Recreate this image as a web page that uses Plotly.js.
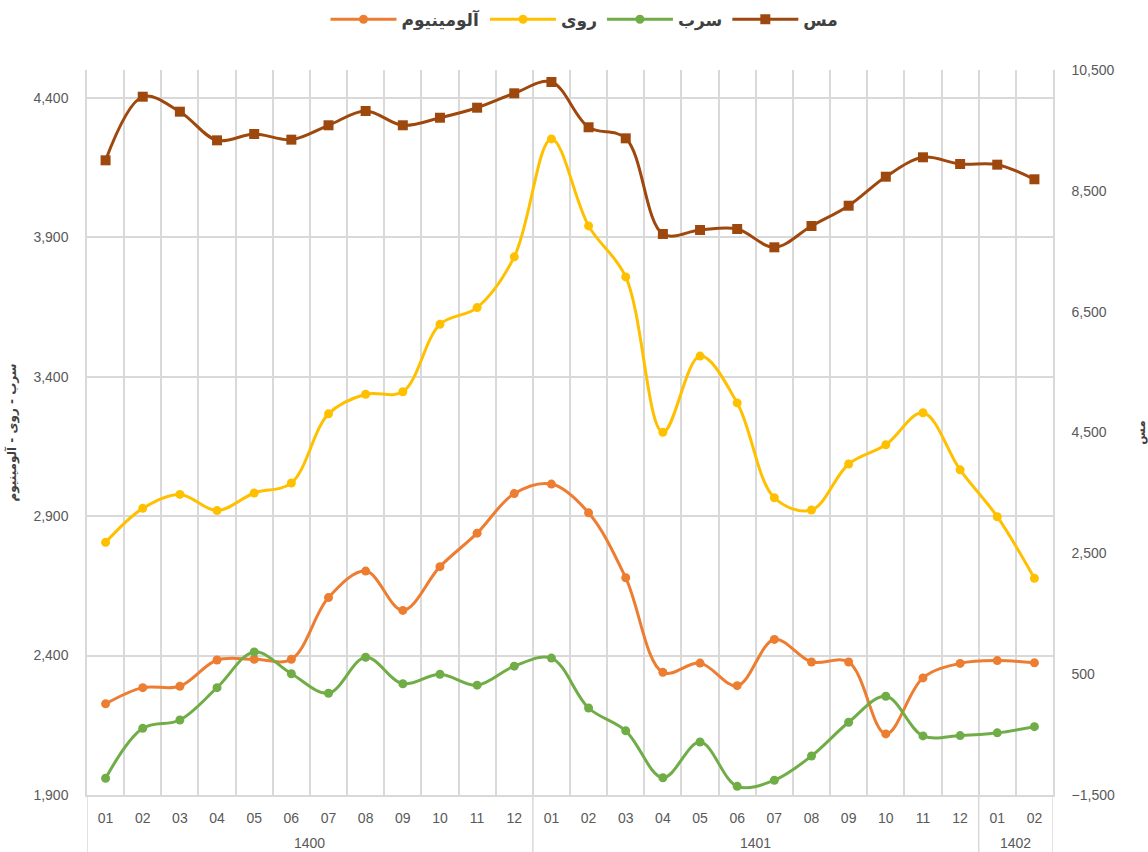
<!DOCTYPE html>
<html>
<head>
<meta charset="utf-8">
<script src="https://cdn.plot.ly/plotly-3.0.1.min.js"></script>
<style>
html,body{margin:0;padding:0;background:#fff;}
#chart{width:1148px;height:852px;}
</style>
</head>
<body>
<div id="chart"></div>
<script>
const years = ['1400','1400','1400','1400','1400','1400','1400','1400','1400','1400','1400','1400',
               '1401','1401','1401','1401','1401','1401','1401','1401','1401','1401','1401','1401',
               '1402','1402'];
const months = ['01','02','03','04','05','06','07','08','09','10','11','12',
                '01','02','03','04','05','06','07','08','09','10','11','12',
                '01','02'];

const aluminium = [2227,2285,2290,2384,2387,2387,2608,2703,2562,2719,2839,2981,
                   3015,2912,2679,2340,2373,2292,2458,2377,2377,2119,2320,2372,
                   2382,2374];
const zinc = [2806,2928,2978,2920,2983,3019,3267,3337,3346,3588,3648,3830,
              4253,3941,3758,3201,3474,3306,2966,2922,3087,3156,3271,3066,
              2898,2677];
const lead = [1960,2139,2169,2285,2413,2335,2265,2394,2299,2333,2294,2362,
              2391,2212,2130,1962,2090,1931,1953,2040,2161,2254,2112,2113,
              2123,2145];
const copper = [9005,10058,9810,9336,9441,9347,9585,9821,9585,9710,9876,10114,
                10301,9552,9369,7786,7852,7868,7565,7918,8254,8734,9055,8944,
                8933,8691];

const names = ['آلومینیوم','روی','سرب','مس'];
const colors = ['#ED7D31','#FFC000','#70AD47','#9E480E'];

const fontFam = 'Liberation Sans, DejaVu Sans, Arial, sans-serif';
// unique category keys (year/month) shown with month labels
const xcat = years.map((y, i) => y + '/' + months[i]);

function tr(y, i, axis, symbol, size) {
  return {
    type: 'scatter', mode: 'lines+markers',
    x: xcat, y: y, name: names[i], yaxis: axis,
    line: {color: colors[i], width: 3, shape: 'spline', smoothing: 1},
    marker: {color: colors[i], size: size, symbol: symbol}
  };
}

const data = [
  tr(aluminium, 0, 'y', 'circle', 9),
  tr(zinc, 1, 'y', 'circle', 9),
  tr(lead, 2, 'y', 'circle', 9),
  tr(copper, 3, 'y2', 'square', 10)
];

// year groups -> dividers and centred year labels
const groups = [];
years.forEach((y, i) => {
  if (!groups.length || groups[groups.length - 1].year !== y) groups.push({year: y, start: i, end: i});
  else groups[groups.length - 1].end = i;
});
const gridCol = '#d9d9d9';
const shapes = [];
const annotations = [];
groups.forEach((g, k) => {
  shapes.push({type: 'line', xref: 'x', yref: 'paper', x0: g.start - 0.5, x1: g.start - 0.5,
               y0: 0, y1: -0.08, line: {color: gridCol, width: 1.5}});
  if (k === groups.length - 1)
    shapes.push({type: 'line', xref: 'x', yref: 'paper', x0: g.end + 0.5, x1: g.end + 0.5,
                 y0: 0, y1: -0.08, line: {color: gridCol, width: 1.5}});
  annotations.push({xref: 'x', yref: 'paper', x: (g.start + g.end) / 2, y: 0,
                    yshift: -48, yanchor: 'middle', showarrow: false, text: g.year,
                    font: {size: 14, color: '#595959', family: fontFam}});
});

const layout = {
  width: 1148, height: 852,
  margin: {l: 87, r: 95, t: 70, b: 57},
  paper_bgcolor: '#fff', plot_bgcolor: '#fff',
  font: {family: fontFam, color: '#595959', size: 14},
  showlegend: true,
  legend: {
    orientation: 'h', x: 0.515, xanchor: 'center', xref: 'paper',
    y: 0.998, yanchor: 'top', yref: 'container',
    font: {size: 17, color: '#404040', family: 'DejaVu Sans, Liberation Sans, sans-serif', weight: 'bold'},
    traceorder: 'normal', itemwidth: 66
  },
  xaxis: {
    type: 'category',
    range: [-0.5, xcat.length - 0.5],
    tickvals: xcat, ticktext: months,
    tickson: 'boundaries',
    showgrid: true, gridcolor: gridCol, gridwidth: 1.5,
    showline: true, linecolor: gridCol, linewidth: 1.5,
    ticks: '', ticklabelstandoff: 9,
    tickfont: {size: 14, color: '#595959'},
    zeroline: false
  },
  yaxis: {
    range: [1900, 4500], tick0: 1900, dtick: 500,
    tickformat: ',',
    showgrid: true, gridcolor: gridCol, gridwidth: 1.5,
    showline: true, linecolor: gridCol, linewidth: 1.5,
    zeroline: false, ticks: '', ticklabelstandoff: 14,
    tickfont: {size: 14, color: '#595959'},
    title: {text: 'سرب - روی - آلومینیوم', font: {size: 12, color: '#404040', family: 'DejaVu Sans, sans-serif', weight: 'bold'}, standoff: 14}
  },
  yaxis2: {
    overlaying: 'y', side: 'right',
    range: [-1500, 10500], tick0: -1500, dtick: 2000,
    tickformat: ',',
    showgrid: false,
    showline: true, linecolor: gridCol, linewidth: 1.5,
    zeroline: false, ticks: '', ticklabelstandoff: 14,
    tickfont: {size: 14, color: '#595959'},
    title: {text: 'مس', font: {size: 12, color: '#404040', family: 'DejaVu Sans, sans-serif', weight: 'bold'}, standoff: 26}
  },
  shapes: shapes,
  annotations: annotations
};

Plotly.newPlot('chart', data, layout, {displayModeBar: false, responsive: false});
</script>
</body>
</html>
